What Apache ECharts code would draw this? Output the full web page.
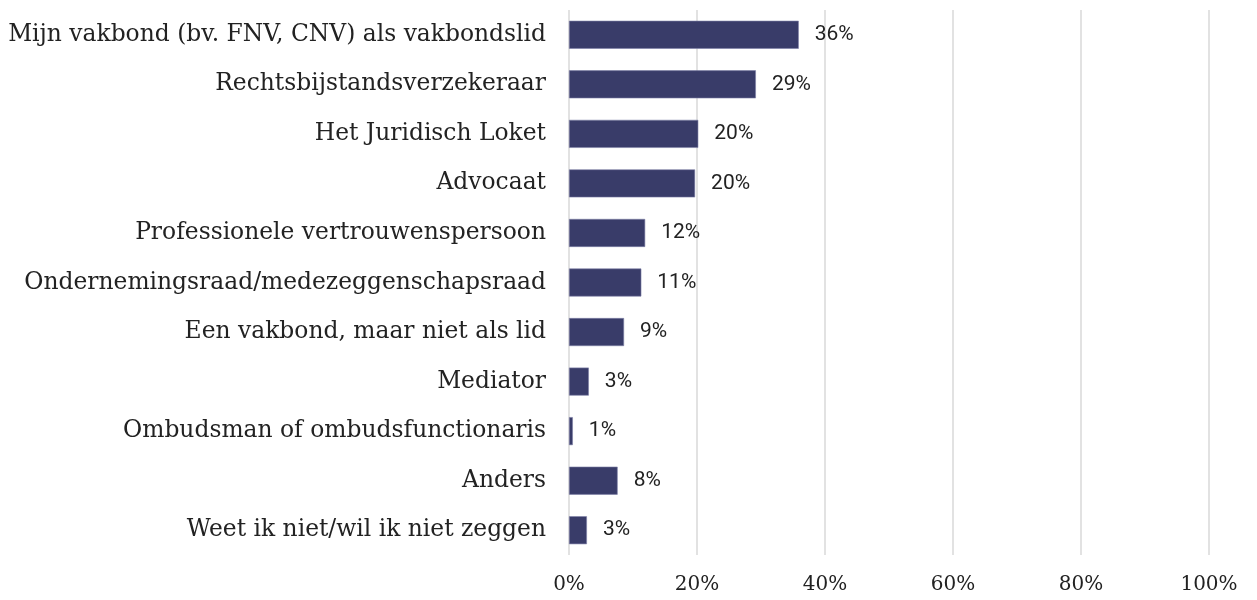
<!DOCTYPE html>
<html>
<head>
<meta charset="utf-8">
<script src="https://cdn.jsdelivr.net/npm/echarts@6/dist/echarts.min.js"></script>
<style>
    html, body { margin: 0; padding: 0; background: #fff; }
    #chart { width: 1257px; height: 600px; }
</style>
</head>
<body>
<div id="chart"></div>
<script>
// categories top to bottom
var categories = [
    'Mijn vakbond (bv. FNV, CNV) als vakbondslid',
    'Rechtsbijstandsverzekeraar',
    'Het Juridisch Loket',
    'Advocaat',
    'Professionele vertrouwenspersoon',
    'Ondernemingsraad/medezeggenschapsraad',
    'Een vakbond, maar niet als lid',
    'Mediator',
    'Ombudsman of ombudsfunctionaris',
    'Anders',
    'Weet ik niet/wil ik niet zeggen'
];
// percentages
var values = [35.9, 29.2, 20.2, 19.7, 11.9, 11.3, 8.6, 3.1, 0.6, 7.6, 2.8];
var ticks = [0, 20, 40, 60, 80, 100];

var myChart = echarts.init(document.getElementById('chart'));
var option = {
    animation: false,
    grid: {
        left: 569,
        right: 48,
        top: 10,
        bottom: 45
    },
    xAxis: {
        type: 'value',
        min: 0,
        max: 100,
        interval: 20,
        axisLine: { show: false },
        axisTick: { show: false },
        splitLine: {
            lineStyle: { color: '#d9d9d9', width: 1.5 }
        },
        axisLabel: {
            margin: 20,
            fontFamily: 'DejaVu Serif',
            fontSize: 20,
            color: '#222',
            formatter: function (v) {
                return ticks.indexOf(v) >= 0 ? v + '%' : '';
            }
        }
    },
    yAxis: {
        type: 'category',
        inverse: true,
        data: categories,
        axisLine: { show: false },
        axisTick: { show: false },
        axisLabel: {
            margin: 23,
            fontFamily: 'DejaVu Serif',
            fontSize: 23.4,
            color: '#222'
        }
    },
    series: [{
        type: 'bar',
        data: values,
        barWidth: 28,
        itemStyle: {
            color: '#393c69',
            borderColor: '#7d80a6',
            borderWidth: 0.6
        },
        label: {
            show: true,
            position: 'right',
            distance: 16,
            fontFamily: 'Roboto',
            fontSize: 21,
            color: '#222',
            formatter: function (p) {
                return Math.round(p.value) + '%';
            }
        }
    }]
};
myChart.setOption(option);
</script>
</body>
</html>
